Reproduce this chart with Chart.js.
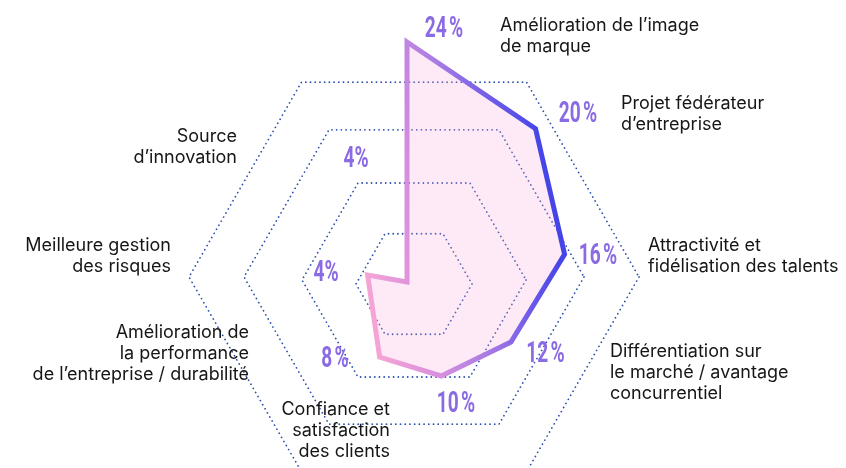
<!DOCTYPE html>
<html>
<head>
<meta charset="utf-8">
<script src="https://cdn.jsdelivr.net/npm/chart.js@4.4.1/dist/chart.umd.min.js"></script>
<style>
  html, body { margin: 0; padding: 0; background: #ffffff; width: 846px; height: 468px; overflow: hidden; }
  #c { display: block; }
</style>
</head>
<body>
<canvas id="c" width="846" height="564"></canvas>
<script>
// Nine angular slots (40° apart, clockwise from the top), as laid out in the picture.
// Slot 6 carries no category; the polygon runs straight across it.
const categories = [
  ["Amélioration de l’image", "de marque"],
  ["Projet fédérateur", "d’entreprise"],
  ["Attractivité et", "fidélisation des talents"],
  ["Différentiation sur", "le marché / avantage", "concurrentiel"],
  ["Confiance et", "satisfaction", "des clients"],
  ["Amélioration de", "la performance", "de l’entreprise / durabilité"],
  [],
  ["Meilleure gestion", "des risques"],
  ["Source", "d’innovation"]
];
// Values as drawn by the polygon (the "Source d’innovation" vertex sits at the centre).
const shares = [24, 20, 16, 12, 10, 8, null, 4, 0];
// Value labels printed next to each axis.
const shareLabels = ["24\u202F%", "20\u202F%", "16\u202F%", "12\u202F%", "10\u202F%", "8\u202F%", "", "4%", "4%"];

// ---- layout / style (not data) ----
const PCT_POS = [ [444, 37], [578, 122], [598, 264], [545.5, 362], [456, 412], [335, 367], null, [326, 281], [356, 167] ];
const CAT_POS = [
  {x: 500, y: 31, a: 'left'},
  {x: 621, y: 109, a: 'left'},
  {x: 648, y: 251, a: 'left'},
  {x: 610, y: 357, a: 'left'},
  {x: 390, y: 415, a: 'right'},
  {x: 249, y: 338, a: 'right'},
  null,
  {x: 171, y: 251, a: 'right'},
  {x: 237, y: 142, a: 'right'}
];
const HEX_RINGS = [ {r: 5.8, dy: 0.2}, {r: 11.2, dy: -0.2}, {r: 17.0, dy: -0.5}, {r: 22.5, dy: -0.5} ];
const HEX_DX = 0.7;

const hexPlugin = {
  id: 'hexGrid',
  beforeDatasetsDraw(chart) {
    const r = chart.scales.r;
    const u = r.drawingArea / (r.max - r.min);
    const ctx = chart.ctx;
    ctx.save();
    ctx.strokeStyle = '#2a4fae';
    ctx.lineWidth = 1.8;
    ctx.lineCap = 'round';
    ctx.setLineDash([0.01, 4.7]);
    HEX_RINGS.forEach(ring => {
      const cx = r.xCenter + HEX_DX * u, cy = r.yCenter + ring.dy * u, R = ring.r * u;
      ctx.beginPath();
      for (let k = 0; k <= 6; k++) {
        const a = k * Math.PI / 3;
        const x = cx + R * Math.cos(a), y = cy + R * Math.sin(a);
        if (k === 0) ctx.moveTo(x, y); else ctx.lineTo(x, y);
      }
      ctx.stroke();
    });
    ctx.restore();
  }
};

const textPlugin = {
  id: 'texts',
  afterDraw(chart) {
    const ctx = chart.ctx;
    ctx.save();
    // value labels (condensed)
    ctx.fillStyle = '#8b6be3';
    ctx.font = '700 29px Roboto, "Liberation Sans", sans-serif';
    ctx.textAlign = 'center';
    ctx.textBaseline = 'alphabetic';
    shareLabels.forEach((t, i) => {
      const p = PCT_POS[i];
      if (!t || !p) return;
      ctx.save();
      ctx.translate(p[0], p[1]);
      ctx.scale(0.66, 1);
      ctx.fillText(t, 0, 0);
      ctx.restore();
    });
    // category labels
    ctx.fillStyle = '#161616';
    ctx.font = '18px Inter, "Liberation Sans", sans-serif';
    categories.forEach((lines, i) => {
      const p = CAT_POS[i];
      if (!p) return;
      ctx.textAlign = p.a;
      lines.forEach((ln, j) => ctx.fillText(ln, p.x, p.y + j * 21));
    });
    ctx.restore();
  }
};

new Chart(document.getElementById('c'), {
  type: 'radar',
  data: {
    labels: categories.map(l => l.join(' ')),
    datasets: [{
      data: shares,
      spanGaps: true,
      clip: false,
      fill: true,
      backgroundColor: 'rgba(247,170,220,0.25)',
      borderWidth: 5,
      borderJoinStyle: 'miter',
      pointRadius: 0,
      pointHoverRadius: 0,
      tension: 0,
      borderColor: (c) => {
        const chart = c.chart;
        const r = chart.scales && chart.scales.r;
        if (!r || !chart.chartArea) return '#8b6be3';
        const u = r.drawingArea / (r.max - r.min);
        const g = chart.ctx.createLinearGradient(r.xCenter - 4.5 * u, r.yCenter + 0.8 * u, r.xCenter + 15.5 * u, r.yCenter - 2.7 * u);
        g.addColorStop(0, '#f8a6d4');
        g.addColorStop(0.3, '#d890de');
        g.addColorStop(0.55, '#aa7ce4');
        g.addColorStop(0.8, '#6c5ae8');
        g.addColorStop(1, '#4444e8');
        return g;
      }
    }]
  },
  options: {
    responsive: false,
    animation: false,
    events: [],
    layout: { padding: { left: 221, right: 253, top: 0, bottom: 0 } },
    plugins: { legend: { display: false }, tooltip: { enabled: false } },
    scales: {
      r: {
        min: 0,
        max: 18.6,
        ticks: { display: false },
        grid: { display: false },
        angleLines: { display: false },
        pointLabels: { display: false }
      }
    }
  },
  plugins: [hexPlugin, textPlugin]
});
</script>
</body>
</html>
